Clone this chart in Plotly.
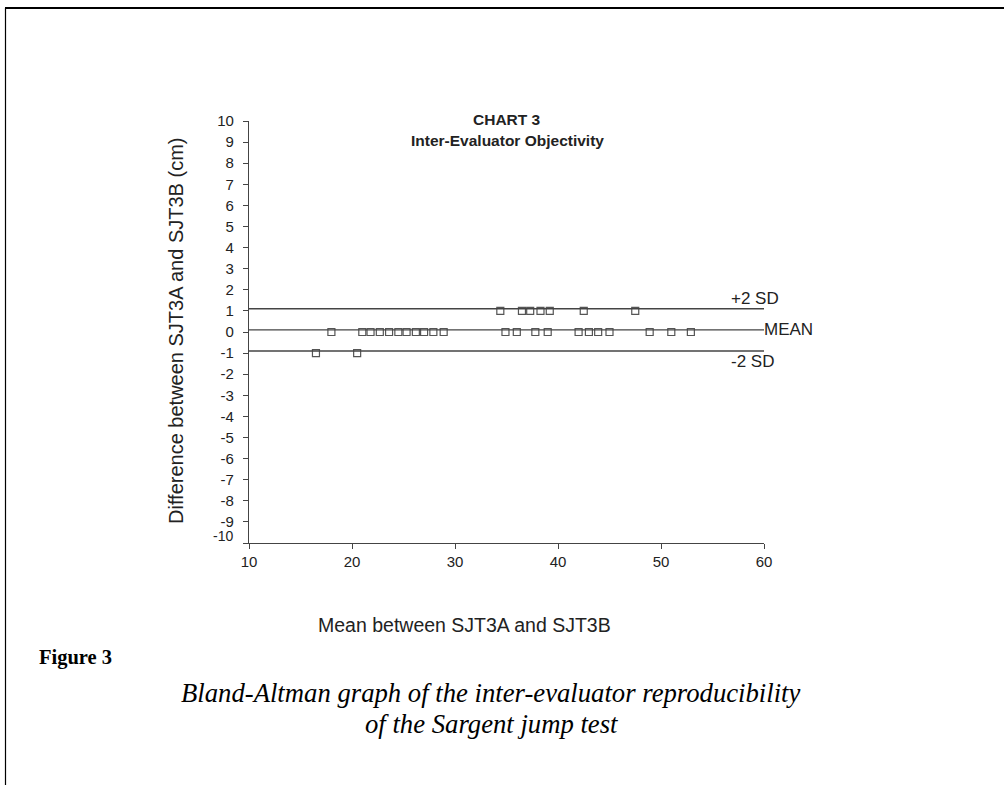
import plotly.graph_objects as go

# ---- data ----
x_diff_plus1 = [34.4, 36.5, 37.3, 38.3, 39.2, 42.5, 47.5]
x_diff_zero = [18.0, 21.0, 21.8, 22.7, 23.6, 24.5, 25.3, 26.2, 27.0, 27.9, 28.9,
               34.9, 36.0, 37.8, 39.0, 42.0, 43.0, 43.9, 45.0, 48.9, 51.0, 52.9]
x_diff_minus1 = [16.5, 20.5]
diff_values = [1, 0, -1]

mean_diff = 0.1
upper_loa = 1.1
lower_loa = -0.9
line_x = [10, 60]

y_tickvals = list(range(-10, 11))
y_ticktext = [str(v) if v != -10 else "" for v in y_tickvals]
x_tickvals = [10, 20, 30, 40, 50, 60]

W, H = 1004, 785
L, R, T, B = 249, 764, 121, 543  # plot area pixel box

def px(x):
    return (x - L) / (R - L)

def py(y):
    return (B - y) / (B - T)

TXT = "#222222"

fig = go.Figure()

for xs, dv in zip([x_diff_plus1, x_diff_zero, x_diff_minus1], diff_values):
    fig.add_trace(go.Scatter(
        x=xs, y=[dv] * len(xs), mode="markers",
        marker=dict(symbol="square-open", size=7, color="#555555",
                    line=dict(width=1.2, color="#555555")),
        showlegend=False, hoverinfo="skip"))

for yv in [upper_loa, mean_diff, lower_loa]:
    fig.add_trace(go.Scatter(
        x=line_x, y=[yv, yv], mode="lines",
        line=dict(color="#444444", width=1.4),
        showlegend=False, hoverinfo="skip"))

fig.update_layout(
    width=W, height=H,
    margin=dict(l=L, r=W - R, t=T, b=H - B, pad=0),
    paper_bgcolor="white", plot_bgcolor="white",
    font=dict(family="Liberation Sans, Arial, sans-serif", size=14, color=TXT),
    xaxis=dict(range=[10, 60], tickvals=x_tickvals, showgrid=False, zeroline=False,
               showline=True, linecolor="#444444", linewidth=1.3,
               ticks="outside", ticklen=5, tickcolor="#444444",
               tickfont=dict(size=15, color=TXT)),
    yaxis=dict(range=[-10, 10], tickvals=y_tickvals, ticktext=y_ticktext,
               showgrid=False, zeroline=False,
               showline=True, linecolor="#444444", linewidth=1.3,
               ticks="outside", ticklen=5, tickcolor="#444444",
               ticklabelstandoff=6,
               tickfont=dict(size=15, color=TXT)),
)

ann = []
# -10 label (drawn squeezed under -9 as in reference)
ann.append(dict(x=px(235), y=py(536), xref="paper", yref="paper", text="-10",
                showarrow=False, xanchor="right", yanchor="middle",
                font=dict(size=14, color=TXT)))
# title
ann.append(dict(x=px(507), y=py(120), xref="paper", yref="paper",
                text="<b>CHART 3</b>", showarrow=False, xanchor="center", yanchor="middle",
                font=dict(size=15.5, color=TXT)))
ann.append(dict(x=px(507), y=py(140), xref="paper", yref="paper",
                text="<b>Inter-Evaluator Objectivity</b>", showarrow=False,
                xanchor="center", yanchor="middle", font=dict(size=15.5, color=TXT)))
# line labels
ann.append(dict(x=px(729), y=py(298), xref="paper", yref="paper", text="+2 SD",
                showarrow=False, xanchor="left", yanchor="middle",
                font=dict(size=17, color=TXT)))
ann.append(dict(x=px(762), y=py(329), xref="paper", yref="paper", text="MEAN",
                showarrow=False, xanchor="left", yanchor="middle",
                font=dict(size=17, color=TXT)))
ann.append(dict(x=px(729), y=py(361), xref="paper", yref="paper", text="-2 SD",
                showarrow=False, xanchor="left", yanchor="middle",
                font=dict(size=17, color=TXT)))
# axis titles
ann.append(dict(x=px(176), y=py(331), xref="paper", yref="paper",
                text="Difference between SJT3A and SJT3B (cm)", textangle=-90,
                showarrow=False, xanchor="center", yanchor="middle",
                font=dict(size=20, color=TXT)))
ann.append(dict(x=px(464), y=py(625), xref="paper", yref="paper",
                text="Mean between SJT3A and SJT3B",
                showarrow=False, xanchor="center", yanchor="middle",
                font=dict(size=19.5, color=TXT)))
# figure caption
SERIF = "Liberation Serif, Times New Roman, serif"
ann.append(dict(x=px(37), y=py(657), xref="paper", yref="paper",
                text="<b>Figure 3</b>", showarrow=False, xanchor="left", yanchor="middle",
                font=dict(family=SERIF, size=20.5, color="black")))
ann.append(dict(x=px(491), y=py(693), xref="paper", yref="paper",
                text="<i>Bland-Altman graph of the inter-evaluator reproducibility</i>",
                showarrow=False, xanchor="center", yanchor="middle",
                font=dict(family=SERIF, size=26.7, color="black")))
ann.append(dict(x=px(491), y=py(724), xref="paper", yref="paper",
                text="<i>of the Sargent jump test</i>",
                showarrow=False, xanchor="center", yanchor="middle",
                font=dict(family=SERIF, size=26.7, color="black")))
fig.update_layout(annotations=ann)

# outer frame
shapes = [
    dict(type="line", xref="paper", yref="paper", x0=px(5), x1=px(1004), y0=py(8), y1=py(8),
         line=dict(color="black", width=2)),
    dict(type="line", xref="paper", yref="paper", x0=px(5.5), x1=px(5.5), y0=py(8), y1=py(785),
         line=dict(color="black", width=1.2)),
]
fig.update_layout(shapes=shapes)

fig.write_html("out.html", config={"displayModeBar": False},
               post_script="document.body.style.margin='0px';document.body.style.overflow='hidden';")
